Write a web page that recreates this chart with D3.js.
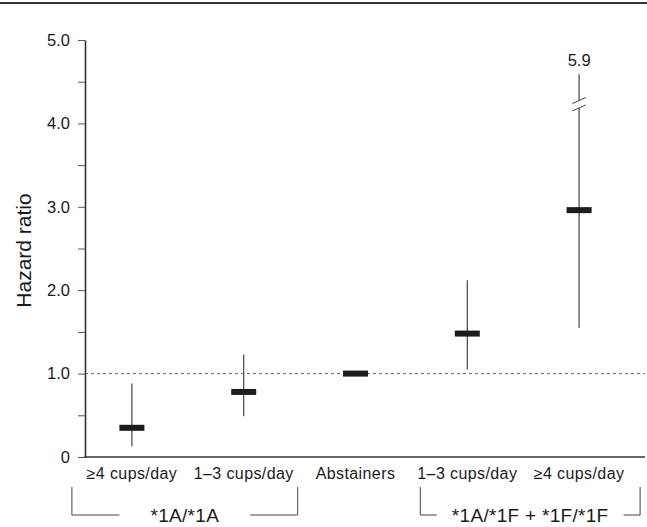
<!DOCTYPE html>
<html>
<head>
<meta charset="utf-8">
<script src="https://cdn.jsdelivr.net/npm/d3@7"></script>
<style>
  body { margin: 0; background: #fff; }
  text { font-family: "Liberation Sans", Arial, sans-serif; fill: #1a1a1a; }
</style>
</head>
<body>
<script>
const width = 647;
const height = 527;

// data
const catKeys = ["1A_4", "1A_13", "abs", "1F_13", "1F_4"];
const catLabels = ["\u22654 cups/day", "1\u20133 cups/day", "Abstainers", "1\u20133 cups/day", "\u22654 cups/day"];
const hr = [0.35, 0.78, 1.0, 1.48, 2.96];
const ciLow = [0.13, 0.49, null, 1.05, 1.55];
const ciHigh = [0.88, 1.23, null, 2.12, 5.9];

const groupLabels = ["*1A/*1A", "*1A/*1F + *1F/*1F"];
const groupFirst = ["1A_4", "1F_13"];
const groupLast = ["1A_13", "1F_4"];

const yTicks = [0, 0.5, 1, 1.5, 2, 2.5, 3, 3.5, 4, 4.5, 5];
const yTickLabels = ["0", "", "1.0", "", "2.0", "", "3.0", "", "4.0", "", "5.0"];

// broken error bar (value shown as a label above the break)
const breakAt = 4.23;
const brokenTop = 4.59;

const x_left = 85, x_right = 645;
// bracket overhang past the outer category centres, and gap round the label
const bracket_pad = [[60, 54], [47, 61]];
const bracket_gap = [31, 15];

let svg = d3.select("body")
    .append("svg")
    .attr("width", width)
    .attr("height", height);

let x = d3.scaleBand()
    .domain(catKeys)
    .range([76, 635])
    .padding(0);

let y = d3.scaleLinear()
    .domain([0, 5])
    .range([457, 40]);

// rule on top
svg.append("line")
    .attr("x1", 0).attr("x2", width)
    .attr("y1", 3).attr("y2", 3)
    .attr("stroke", "#333")
    .attr("stroke-width", 2);

// reference line at HR = 1
svg.append("line")
    .attr("x1", x_left).attr("x2", x_right)
    .attr("y1", y(1)).attr("y2", y(1))
    .attr("stroke", "#666")
    .attr("stroke-width", 1)
    .attr("stroke-dasharray", "3,3");

// y axis
let yAxis = d3.axisLeft(y)
    .tickValues(yTicks)
    .tickSize(7)
    .tickSizeOuter(0)
    .tickPadding(8)
    .tickFormat((d, i) => yTickLabels[i]);

let yg = svg.append("g")
    .attr("transform", `translate(${x_left},0)`)
    .call(yAxis);
yg.select(".domain").attr("stroke", "#333").attr("stroke-width", 1.6);
yg.selectAll(".tick line").attr("stroke", "#555").attr("stroke-width", 1);
yg.selectAll(".tick text")
    .attr("font-size", 16.5)
    .attr("font-family", "Liberation Sans, Arial, sans-serif")
    .attr("fill", "#1a1a1a");

// x axis line
svg.append("line")
    .attr("x1", x_left - 0.8).attr("x2", x_right)
    .attr("y1", y(0)).attr("y2", y(0))
    .attr("stroke", "#333")
    .attr("stroke-width", 1.6);

svg.append("text")
    .attr("text-anchor", "middle")
    .attr("transform", `translate(31, ${(y(0) + y(5)) / 2 + 2}) rotate(-90)`)
    .attr("font-size", 21)
    .text("Hazard ratio");

let cx = (i) => x(catKeys[i]) + x.bandwidth() / 2;

// error bars
catKeys.forEach((k, i) => {
    if (ciLow[i] == null) return;
    let xc = cx(i);
    if (ciHigh[i] > 5) {
        let yb = y(breakAt);
        svg.append("line")
            .attr("x1", xc).attr("x2", xc)
            .attr("y1", y(ciLow[i])).attr("y2", yb + 3.7)
            .attr("stroke", "#444").attr("stroke-width", 1.2);
        svg.append("line")
            .attr("x1", xc).attr("x2", xc)
            .attr("y1", yb - 3.7).attr("y2", y(brokenTop))
            .attr("stroke", "#444").attr("stroke-width", 1.2);
        [-3.7, 3.7].forEach((off) => {
            svg.append("line")
                .attr("x1", xc - 6.7).attr("x2", xc + 6.7)
                .attr("y1", yb + off + 3).attr("y2", yb + off - 3)
                .attr("stroke", "#444").attr("stroke-width", 1);
        });
        svg.append("text")
            .attr("text-anchor", "middle")
            .attr("x", xc)
            .attr("y", y(brokenTop) - 8)
            .attr("font-size", 16.5)
            .text(ciHigh[i].toFixed(1));
    } else {
        svg.append("line")
            .attr("x1", xc).attr("x2", xc)
            .attr("y1", y(ciLow[i])).attr("y2", y(ciHigh[i]))
            .attr("stroke", "#444").attr("stroke-width", 1.2);
    }
});

// point estimates
svg.selectAll(".est")
    .data(hr)
    .enter()
    .append("rect")
    .attr("class", "est")
    .attr("x", (d, i) => cx(i) - 12.5)
    .attr("y", (d) => y(d) - 3)
    .attr("width", 25)
    .attr("height", 6)
    .attr("fill", "#1c1c1c");

// category labels
svg.selectAll(".cat")
    .data(catLabels)
    .enter()
    .append("text")
    .attr("class", "cat")
    .attr("text-anchor", "middle")
    .attr("x", (d, i) => cx(i))
    .attr("y", 479)
    .attr("font-size", 16)
    .attr("letter-spacing", 0.4)
    .text((d) => d);

// genotype brackets
groupLabels.forEach((g, i) => {
    let x0 = x(groupFirst[i]) + x.bandwidth() / 2 - bracket_pad[i][0];
    let x1 = x(groupLast[i]) + x.bandwidth() / 2 + bracket_pad[i][1];
    let xm = (x0 + x1) / 2;
    let yTop = 487, yLine = 515;
    let t = svg.append("text")
        .attr("text-anchor", "middle")
        .attr("x", xm)
        .attr("y", yLine + 6.5)
        .attr("font-size", 19)
        .attr("letter-spacing", 0.3)
        .text(g);
    let half = t.node().getComputedTextLength() / 2 + bracket_gap[i];
    svg.append("path")
        .attr("d", `M${x0},${yTop}V${yLine}H${xm - half}`)
        .attr("fill", "none").attr("stroke", "#444").attr("stroke-width", 1);
    svg.append("path")
        .attr("d", `M${xm + half},${yLine}H${x1}V${yTop}`)
        .attr("fill", "none").attr("stroke", "#444").attr("stroke-width", 1);
});
</script>
</body>
</html>
